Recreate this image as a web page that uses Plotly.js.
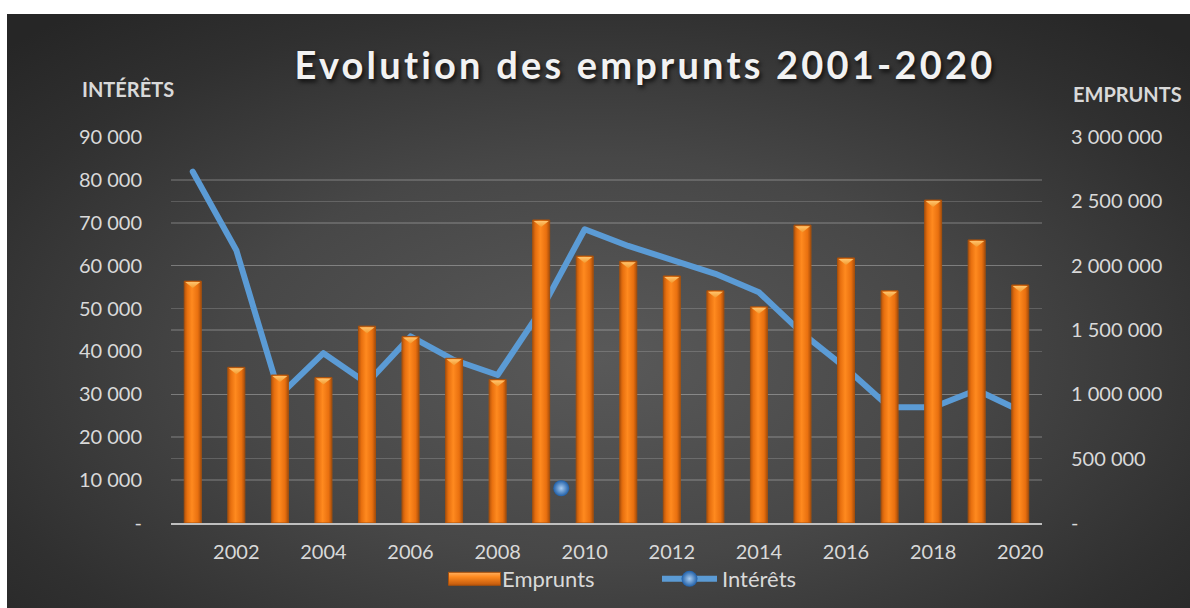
<!DOCTYPE html>
<html>
<head>
<meta charset="utf-8">
<script src="https://cdn.plot.ly/plotly-3.0.1.min.js"></script>
<style>
  html, body { margin:0; padding:0; background:#ffffff; width:1190px; height:608px; overflow:hidden; }
  #bg { position:absolute; left:7px; top:14px; width:1183px; height:594px;
        background: radial-gradient(ellipse 70% 75% at 50% 58%, #595959 0%, #474747 45%, #303030 80%, #262626 100%); }
  #chart { position:absolute; left:0; top:0; width:1190px; height:608px; }
</style>
</head>
<body>
<div id="bg"></div>
<div id="chart"></div>
<script>
// ---- data ----
const years = [2001,2002,2003,2004,2005,2006,2007,2008,2009,2010,2011,2012,2013,2014,2015,2016,2017,2018,2019,2020];
const emprunts = [1880000,1210000,1150000,1130000,1530000,1450000,1280000,1115000,2355000,2075000,2035000,1920000,1805000,1680000,2315000,2060000,1805000,2510000,2200000,1850000];
const interets = [81900,63600,29800,39600,32600,43500,38000,34500,49700,68500,64600,61300,58100,53800,44200,36100,27000,27000,31000,26200];
const strayX = [2009.46];
const strayY = [8100];

const xTickVals = [2002,2004,2006,2008,2010,2012,2014,2016,2018,2020];
const xTickText = ['2002','2004','2006','2008','2010','2012','2014','2016','2018','2020'];
const yLeftVals = [0,10000,20000,30000,40000,50000,60000,70000,80000,90000];
const yLeftText = ['-','10 000','20 000','30 000','40 000','50 000','60 000','70 000','80 000','90 000'];
const yRightVals = [0,500000,1000000,1500000,2000000,2500000,3000000];
const yRightText = ['-','500 000','1 000 000','1 500 000','2 000 000','2 500 000','3 000 000'];

const txt = '#D9D9D9';
const grid = 'rgba(255,255,255,0.17)';
const FONT = 'Lato, "Open Sans", sans-serif';
const blue = '#5B9BD5';

const traces = [
  {
    type:'bar', name:'Emprunts', x:years, y:emprunts, yaxis:'y2', width:0.39,
    marker:{color:'#F67B12', line:{color:'#A9510C', width:1}},
    hoverinfo:'x+y'
  },
  {
    type:'scatter', mode:'lines', name:'Intérêts', x:years, y:interets, yaxis:'y', showlegend:false,
    legendgroup:'int', line:{color:blue, width:6}
  },
  {
    type:'scatter', mode:'lines+markers', name:'Intérêts', x:strayX, y:strayY, yaxis:'y', showlegend:true,
    legendgroup:'int', line:{color:blue, width:6},
    marker:{size:16, color:'#1F5FA8', gradient:{type:'radial', color:'#A9CCF0'}, line:{width:0}}
  }
];

const layout = {
  width:1190, height:608,
  paper_bgcolor:'rgba(0,0,0,0)', plot_bgcolor:'rgba(0,0,0,0)',
  margin:{l:171, r:148, t:137, b:85},
  font:{family:FONT, color:txt, size:20},
  title:{text:'<b>Evolution des emprunts 2001-2020</b>', xref:'container', x:0.542, xanchor:'center',
         yref:'container', y:1-66/608, yanchor:'middle',
         font:{family:FONT, size:38, color:'#F2F2F2'}},
  xaxis:{range:[2000.5,2020.5], tickvals:xTickVals, ticktext:xTickText, showgrid:false, zeroline:false,
         showline:true, linecolor:'#BFBFBF', linewidth:2, ticks:'', ticklabelstandoff:10,
         tickfont:{size:20, color:txt}, fixedrange:true},
  yaxis:{range:[0,90000], tickvals:yLeftVals, ticktext:yLeftText, showgrid:true, gridcolor:grid, gridwidth:1.5,
         zeroline:false, showline:false, ticks:'', ticklabelstandoff:28, tickfont:{size:20, color:txt}},
  yaxis2:{range:[0,3000000], tickvals:yRightVals, ticktext:yRightText, overlaying:'y', side:'right',
          showgrid:true, gridcolor:grid, gridwidth:1.5, zeroline:false, showline:false, ticks:'',
          ticklabelstandoff:28, tickfont:{size:20, color:txt}},
  legend:{orientation:'h', xref:'container', yref:'container', x:437/1190, xanchor:'left', y:1-579/608, yanchor:'middle',
          font:{size:22, color:txt}, bgcolor:'rgba(0,0,0,0)', traceorder:'normal',
          itemwidth:55, entrywidth:150},
  annotations:[
    {text:'<b>INTÉRÊTS</b>', xref:'paper', yref:'paper', x:(128-171)/871, y:(523-89)/386, xanchor:'center', yanchor:'middle',
     showarrow:false, font:{size:20, color:txt}},
    {text:'<b>EMPRUNTS</b>', xref:'paper', yref:'paper', x:(1127-171)/871, y:(523-94)/386, xanchor:'center', yanchor:'middle',
     showarrow:false, font:{size:20, color:txt}}
  ],
  showlegend:true
};

Plotly.newPlot('chart', traces, layout, {displayModeBar:false, staticPlot:true}).then(function(gd){
  const t = document.querySelector('.gtitle');
  if (t) { t.style.letterSpacing = '3.2px'; t.style.textShadow = '2px 3px 4px rgba(0,0,0,0.7)'; }
  document.querySelectorAll('.scatterlayer .js-line').forEach(function(p){
    p.style.strokeLinejoin = 'round'; p.style.strokeLinecap = 'round';
  });
  // styling: gradients on bars
  const svg = document.querySelector('#chart svg.main-svg');
  const ns = 'http://www.w3.org/2000/svg';
  let defs = svg.querySelector('defs');
  if (!defs) { defs = document.createElementNS(ns,'defs'); svg.insertBefore(defs, svg.firstChild); }
  function grad(id, vertical, stops){
    const g = document.createElementNS(ns,'linearGradient');
    g.setAttribute('id',id); g.setAttribute('x1','0'); g.setAttribute('y1','0');
    g.setAttribute('x2', vertical ? '0' : '1'); g.setAttribute('y2', vertical ? '1' : '0');
    stops.forEach(function(s){
      const st = document.createElementNS(ns,'stop'); st.setAttribute('offset',s[0]); st.setAttribute('stop-color',s[1]); g.appendChild(st);
    });
    defs.appendChild(g);
  }
  grad('barGrad', false, [['0','#B4540C'],['0.18','#E8700F'],['0.45','#FF8A1F'],['0.8','#E9700F'],['1','#A84E0B']]);
  grad('legGrad', true, [['0','#FFB060'],['0.35','#FF8A1F'],['1','#C0580C']]);
  grad('capGrad', true, [['0','#FFC46E'],['1','#F39A2E']]);
  document.querySelectorAll('.barlayer .point').forEach(function(pt){
    const p = pt.querySelector('path');
    if (!p) return;
    p.style.fill = 'url(#barGrad)';
    // bevel cap derived from the bar's own rendered geometry
    const b = p.getBBox();
    const cap = document.createElementNS(ns,'path');
    const x0 = b.x + 1, x1 = b.x + b.width - 1, y0 = b.y + 1, xm = b.x + b.width/2;
    cap.setAttribute('d', 'M'+x0+','+y0+'L'+x1+','+y0+'L'+xm+','+(y0+6)+'Z');
    cap.style.fill = 'url(#capGrad)';
    pt.appendChild(cap);
  });
  document.querySelectorAll('.legend .legendpoints path.legendundefined, .legend .legendbar path, .legend .legendpoints .legendbar').forEach(function(p){
    p.setAttribute('d','M31,6.5H-21V-6.5H31Z'); p.style.fill = 'url(#legGrad)';
  });
});
</script>
</body>
</html>
